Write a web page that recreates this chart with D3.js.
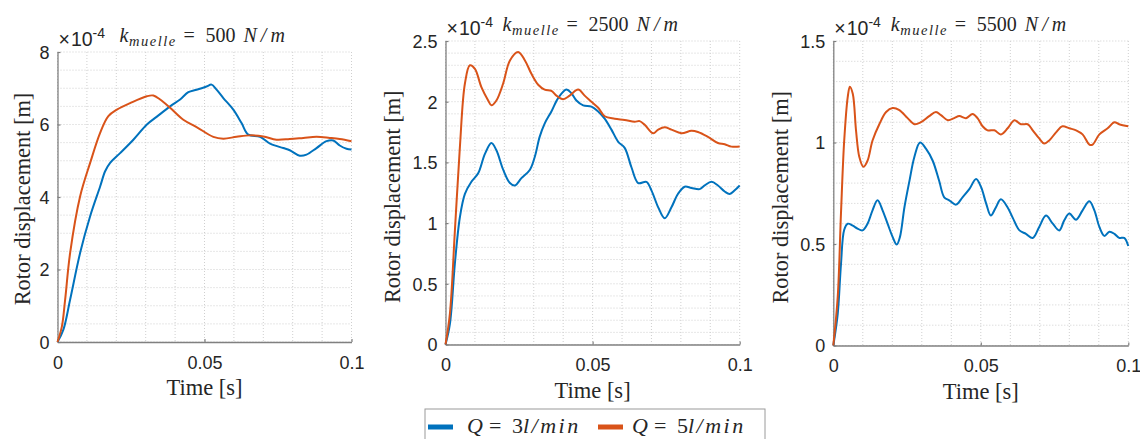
<!DOCTYPE html>
<html>
<head>
<meta charset="utf-8">
<script src="https://cdn.jsdelivr.net/npm/d3@7"></script>
<style>
  html, body { margin: 0; padding: 0; background: #fff; }
  svg { display: block; }
</style>
</head>
<body>
<svg id="chart" width="1140" height="439"></svg>
<script>
// Rotor displacement (units of 1e-4 m) versus time [s], for three spring stiffnesses
// and two flow rates. Each series is a list of [time, displacement] samples.

// k = 500 N/m
const k500_Q3 = [[0,0],[0.002,0.34],[0.0043,1.17],[0.0077,2.46],[0.0111,3.47],[0.0145,4.29],[0.0162,4.71],[0.0179,4.94],[0.0213,5.21],[0.0258,5.58],[0.0304,6.0],[0.0337,6.21],[0.0383,6.5],[0.0417,6.69],[0.0445,6.89],[0.0473,6.96],[0.0507,7.05],[0.0524,7.1],[0.0541,6.96],[0.0564,6.73],[0.0598,6.41],[0.0626,6.04],[0.0649,5.72],[0.0689,5.66],[0.0723,5.47],[0.0768,5.35],[0.079,5.29],[0.0824,5.14],[0.0847,5.17],[0.0881,5.35],[0.0915,5.54],[0.0938,5.56],[0.096,5.42],[0.0983,5.33],[0.1,5.31]];
const k500_Q5 = [[0,0],[0.0015,0.43],[0.0026,1.17],[0.0043,2.46],[0.0077,4.02],[0.0111,4.94],[0.0145,5.77],[0.0173,6.23],[0.0202,6.41],[0.0247,6.59],[0.0304,6.78],[0.0326,6.8],[0.0349,6.69],[0.0383,6.46],[0.0428,6.13],[0.0473,5.93],[0.053,5.66],[0.0564,5.61],[0.0609,5.66],[0.0655,5.7],[0.07,5.67],[0.0745,5.58],[0.079,5.6],[0.0836,5.63],[0.0881,5.66],[0.0926,5.63],[0.096,5.6],[0.1,5.54]];

// k = 2500 N/m
const k2500_Q3 = [[0,0],[0.0015,0.17],[0.0032,0.67],[0.0049,1.05],[0.0066,1.24],[0.0088,1.34],[0.0111,1.41],[0.0134,1.57],[0.0156,1.66],[0.0173,1.6],[0.0196,1.44],[0.0219,1.33],[0.0236,1.31],[0.0258,1.37],[0.0287,1.44],[0.0304,1.55],[0.032,1.71],[0.0337,1.82],[0.036,1.92],[0.0383,2.03],[0.0411,2.1],[0.0428,2.07],[0.0445,2.01],[0.0468,1.97],[0.0496,1.96],[0.0519,1.92],[0.0541,1.86],[0.0564,1.77],[0.0587,1.67],[0.0609,1.62],[0.0632,1.46],[0.0655,1.33],[0.0683,1.34],[0.07,1.27],[0.0723,1.13],[0.0745,1.04],[0.0768,1.13],[0.079,1.24],[0.0813,1.3],[0.0836,1.29],[0.0864,1.28],[0.0881,1.31],[0.0904,1.34],[0.0926,1.31],[0.0949,1.26],[0.0966,1.24],[0.0983,1.27],[0.1,1.31]];
const k2500_Q5 = [[0,0],[0.0015,0.255],[0.0032,0.94],[0.0049,1.63],[0.0066,2.15],[0.0083,2.3],[0.01,2.27],[0.0122,2.12],[0.0145,2.01],[0.0156,1.97],[0.0173,2.01],[0.0196,2.15],[0.0219,2.34],[0.0247,2.41],[0.027,2.34],[0.0292,2.23],[0.0315,2.14],[0.0337,2.1],[0.036,2.09],[0.0377,2.05],[0.04,2.02],[0.0422,2.05],[0.0451,2.1],[0.0473,2.05],[0.0496,2.0],[0.0519,1.95],[0.0541,1.88],[0.0575,1.86],[0.0609,1.85],[0.0643,1.835],[0.066,1.84],[0.0677,1.81],[0.0706,1.74],[0.0723,1.77],[0.0745,1.79],[0.0768,1.77],[0.0802,1.74],[0.0836,1.76],[0.0858,1.75],[0.0892,1.71],[0.0926,1.66],[0.0949,1.65],[0.0972,1.63],[0.1,1.63]];

// k = 5500 N/m
const k5500_Q3 = [[0,0],[0.0015,0.156],[0.0026,0.4],[0.0037,0.57],[0.0049,0.6],[0.0066,0.59],[0.0082,0.576],[0.0099,0.567],[0.0116,0.6],[0.0133,0.666],[0.015,0.715],[0.0167,0.666],[0.0184,0.6],[0.0201,0.535],[0.0215,0.497],[0.0226,0.535],[0.0241,0.68],[0.0258,0.81],[0.0275,0.93],[0.0294,1.0],[0.0314,0.97],[0.0337,0.91],[0.0359,0.81],[0.0376,0.73],[0.0393,0.715],[0.0416,0.694],[0.0438,0.73],[0.0461,0.77],[0.0484,0.82],[0.0501,0.78],[0.0518,0.7],[0.0534,0.64],[0.0551,0.68],[0.0568,0.72],[0.0591,0.68],[0.0608,0.63],[0.0631,0.567],[0.0653,0.55],[0.0676,0.53],[0.0698,0.584],[0.0721,0.64],[0.0744,0.6],[0.0766,0.567],[0.0783,0.617],[0.08,0.65],[0.0823,0.62],[0.0845,0.666],[0.0868,0.71],[0.0885,0.666],[0.0902,0.584],[0.0919,0.54],[0.0936,0.56],[0.0953,0.55],[0.0969,0.53],[0.0986,0.53],[0.1,0.49]];
const k5500_Q5 = [[0,0],[0.0015,0.24],[0.0026,0.65],[0.0037,1.01],[0.0049,1.225],[0.0056,1.275],[0.0066,1.24],[0.0077,1.06],[0.0088,0.93],[0.0102,0.88],[0.0116,0.91],[0.0133,1.01],[0.0156,1.09],[0.0179,1.15],[0.0201,1.17],[0.0224,1.16],[0.0252,1.12],[0.0275,1.09],[0.0297,1.1],[0.0325,1.13],[0.0348,1.15],[0.0365,1.135],[0.0388,1.11],[0.041,1.12],[0.0427,1.13],[0.045,1.12],[0.0472,1.14],[0.0489,1.12],[0.0506,1.08],[0.0523,1.06],[0.0546,1.06],[0.0568,1.04],[0.0591,1.07],[0.0614,1.11],[0.0636,1.09],[0.0659,1.09],[0.0676,1.06],[0.0698,1.02],[0.0715,0.995],[0.0732,1.01],[0.0755,1.05],[0.0777,1.08],[0.08,1.07],[0.0823,1.06],[0.0845,1.04],[0.0868,0.99],[0.0879,0.99],[0.0902,1.04],[0.093,1.07],[0.0953,1.1],[0.0969,1.09],[0.1,1.08]];

const stiffness = ["500", "2500", "5500"];
const seriesNames = ["Q = 3l/min", "Q = 5l/min"];
const flowRates = ["3", "5"];
const yMaxValues = [8, 2.5, 1.5];
const yTickValues = [[0, 2, 4, 6, 8], [0, 0.5, 1, 1.5, 2, 2.5], [0, 0.5, 1, 1.5]];
const yGridSteps = [0.5, 0.1, 0.1];
const xTickValues = [0, 0.05, 0.1];
const xTickLabels = ["0", "0.05", "0.1"];
const panelSeries = [[k500_Q3, k500_Q5], [k2500_Q3, k2500_Q5], [k5500_Q3, k5500_Q5]];

const colors = ["#0072BD", "#D95319"];
const sans = "'Liberation Sans', Arial, sans-serif";
const serif = "'Liberation Serif', 'Times New Roman', serif";
const textColor = "#262626";
const axisColor = "#808080";

// Plot-area boxes for the three subplots
const boxes = [
  { left: 57.5, right: 351.5, top: 52, bottom: 342, ylabelDx: 35, ylabelDy: 2 },
  { left: 445.5, right: 739.7, top: 41, bottom: 344.5, ylabelDx: 53, ylabelDy: 4 },
  { left: 833.3, right: 1128.3, top: 41, bottom: 345.5, ylabelDx: 53, ylabelDy: 4 }
];

const svg = d3.select("#chart");

boxes.forEach((b, i) => {
  const x = d3.scaleLinear().domain([0, 0.1]).range([b.left, b.right]);
  const y = d3.scaleLinear().domain([0, yMaxValues[i]]).range([b.bottom, b.top]);
  const g = svg.append("g");

  // dotted grid
  const xGrid = d3.range(0, 0.1 + 1e-9, 0.01);
  const yGrid = d3.range(0, yMaxValues[i] + 1e-9, yGridSteps[i]);
  g.append("g").selectAll("line").data(xGrid).join("line")
    .attr("x1", d => x(d)).attr("x2", d => x(d))
    .attr("y1", b.top).attr("y2", b.bottom)
    .attr("stroke", "#cfcfcf").attr("stroke-width", 1)
    .attr("stroke-dasharray", "1,2");
  g.append("g").selectAll("line").data(yGrid).join("line")
    .attr("x1", b.left).attr("x2", b.right)
    .attr("y1", d => y(d)).attr("y2", d => y(d))
    .attr("stroke", "#cfcfcf").attr("stroke-width", 1)
    .attr("stroke-dasharray", "1,2");

  // axes (ticks pointing inward)
  const xAxis = d3.axisBottom(x).tickValues(xTickValues)
    .tickFormat((d, k) => xTickLabels[k]).tickSizeInner(-3).tickSizeOuter(0).tickPadding(14);
  const yAxis = d3.axisLeft(y).tickValues(yTickValues[i])
    .tickFormat(d3.format("~g")).tickSizeInner(-3).tickSizeOuter(0).tickPadding(8);

  const gx = g.append("g").attr("transform", `translate(0,${b.bottom})`).call(xAxis);
  const gy = g.append("g").attr("transform", `translate(${b.left},0)`).call(yAxis);
  [gx, gy].forEach(ax => {
    ax.select(".domain").attr("stroke", axisColor).attr("stroke-width", 1.3);
    ax.selectAll(".tick line").attr("stroke", axisColor).attr("stroke-width", 1.2);
    ax.selectAll(".tick text").attr("fill", textColor)
      .style("font-family", sans).style("font-size", "18px");
  });
  gx.selectAll(".tick text").attr("dy", "0.71em");
  gy.selectAll(".tick text").attr("dy", "0.36em");

  // series
  const line = d3.line()
    .x(d => x(d[0])).y(d => y(d[1]))
    .curve(d3.curveCatmullRom.alpha(0.5));
  panelSeries[i].forEach((s, j) => {
    g.append("path").datum(s)
      .attr("d", line)
      .attr("fill", "none")
      .attr("stroke", colors[j])
      .attr("stroke-width", 2)
      .attr("stroke-linejoin", "round");
  });

  // exponent marker
  const ex = g.append("text")
    .attr("x", b.left + 1).attr("y", b.top - 6)
    .attr("fill", textColor)
    .style("font-family", sans).style("font-size", "19.5px");
  ex.append("tspan").text("\u00d7");
  ex.append("tspan").attr("dx", 1).text("10");
  ex.append("tspan").attr("dy", -8).style("font-size", "14px").text("-4");

  // title: k_muelle = <value> N/m, laid out piece by piece
  const cx = (b.left + b.right) / 2;
  const nd = stiffness[i].length;
  const titleW = 140 + nd * 10;
  const x0 = cx - titleW / 2;
  const ty = b.top - 10.5;
  const t = g.append("text")
    .attr("y", ty)
    .attr("fill", textColor)
    .style("font-family", serif).style("font-size", "20px");
  t.append("tspan").attr("x", x0).style("font-style", "italic").text("k");
  t.append("tspan").attr("x", x0 + 9.5).attr("dy", 4)
    .style("font-style", "italic").style("font-size", "14.5px").style("letter-spacing", "1.5px")
    .text("muelle");
  t.append("tspan").attr("x", x0 + 64).attr("dy", -4).text("=");
  t.append("tspan").attr("x", x0 + 86).text(stiffness[i]);
  t.append("tspan").attr("x", x0 + 94 + nd * 10).style("font-style", "italic").text("N\u2009/\u2009m");

  // axis labels
  g.append("text")
    .attr("x", cx).attr("y", b.bottom + 53)
    .attr("text-anchor", "middle")
    .attr("fill", textColor)
    .style("font-family", serif).style("font-size", "22.5px")
    .text("Time [s]");

  const ylx = b.left - b.ylabelDx;
  const yly = (b.top + b.bottom) / 2 + b.ylabelDy;
  g.append("text")
    .attr("transform", `translate(${ylx},${yly}) rotate(-90)`)
    .attr("text-anchor", "middle")
    .attr("dominant-baseline", "central")
    .attr("fill", textColor)
    .style("font-family", serif).style("font-size", "22.4px")
    .text("Rotor displacement [m]");
});

// legend
const legend = svg.append("g");
legend.append("rect")
  .attr("x", 425).attr("y", 409).attr("width", 340).attr("height", 40)
  .attr("fill", "#fff").attr("stroke", "#9a9a9a").attr("stroke-width", 1);
const legendX = [[428, 453, 467], [598, 623, 632]];
seriesNames.forEach((name, j) => {
  const [x1, x2, tx] = legendX[j];
  legend.append("line")
    .attr("x1", x1).attr("x2", x2).attr("y1", 427).attr("y2", 427)
    .attr("stroke", colors[j]).attr("stroke-width", 5);
  const lt = legend.append("text")
    .attr("y", 433)
    .attr("fill", textColor)
    .style("font-family", serif).style("font-size", "22px");
  lt.append("tspan").attr("x", tx).style("font-style", "italic").text("Q");
  lt.append("tspan").attr("x", tx + 22).text("=");
  lt.append("tspan").attr("x", tx + 45).text(flowRates[j]);
  lt.append("tspan").attr("x", tx + 56).style("font-style", "italic")
    .style("letter-spacing", "2.5px").text("l/min");
});
</script>
</body>
</html>
